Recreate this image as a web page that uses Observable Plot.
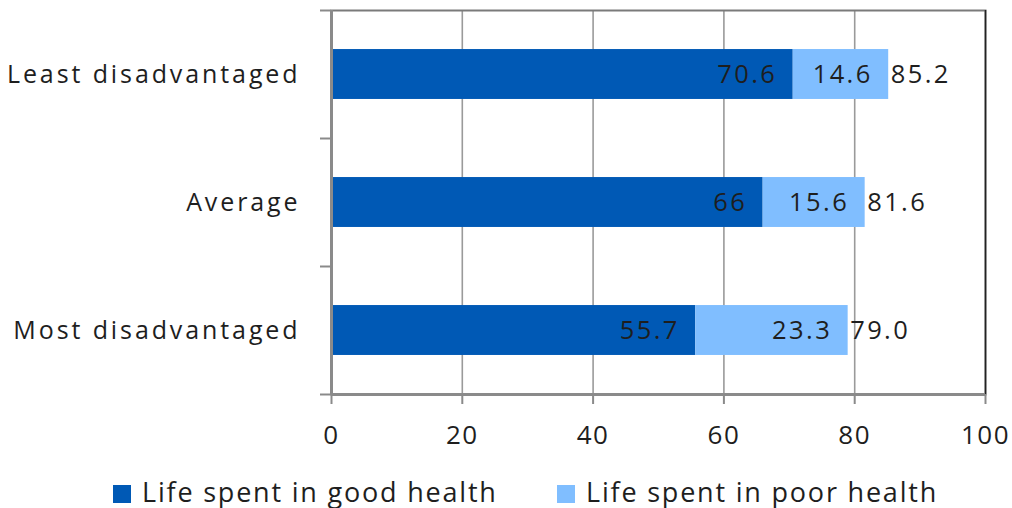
<!DOCTYPE html>
<html>
<head>
<meta charset="utf-8">
<script src="https://cdn.jsdelivr.net/npm/d3@7"></script>
<script src="https://cdn.jsdelivr.net/npm/@observablehq/plot@0.6"></script>
<style>
  body { margin: 0; background: #fff; font-family: "Open Sans", sans-serif; }
  #wrap { position: relative; width: 1012px; height: 508px; }
  #legend { position: absolute; left: 0; top: 0; width: 1012px; height: 508px; pointer-events: none; }
  .sw { position: absolute; top: 485px; width: 18px; height: 18px; }
  .lab { position: absolute; top: 478px; font-size: 27px; line-height: 27px; letter-spacing: 1.8px; color: #1e1e1e; white-space: nowrap; }
  #chart g[aria-label="y-axis tick label"] { letter-spacing: 2.9px; }
  #chart g[aria-label="x-axis tick label"] { letter-spacing: 1.5px; }
  #chart g[aria-label="text"] { letter-spacing: 2.4px; }
</style>
</head>
<body>
<div id="wrap">
  <div id="chart"></div>
  <div id="legend"></div>
</div>
<script>
// Life expectancy split into years in good and poor health, by deprivation group
const groups = ["Least disadvantaged", "Average", "Most disadvantaged"];
const goodHealth = [70.6, 66, 55.7];
const poorHealth = [14.6, 15.6, 23.3];
const seriesNames = ["Life spent in good health", "Life spent in poor health"];
const seriesColors = ["#0059B5", "#80BEFF"];
const xTicks = [0, 20, 40, 60, 80, 100];

// Vertical position of each group's band centre (top group first)
const pos = i => groups.length - 0.5 - i;
const half = 0.195;

const segments = groups.flatMap((g, i) => [
  {group: g, series: seriesNames[0], x1: 0, x2: goodHealth[i], value: goodHealth[i], y: pos(i)},
  {group: g, series: seriesNames[1], x1: goodHealth[i], x2: goodHealth[i] + poorHealth[i], value: poorHealth[i], y: pos(i)}
]);
const totals = groups.map((g, i) => ({group: g, total: goodHealth[i] + poorHealth[i], y: pos(i)}));

const ink = "#1e1e1e";
const axisGrey = "#8a8a8a";

const chart = Plot.plot({
  width: 1012,
  height: 460,
  marginLeft: 331,
  marginRight: 27,
  marginTop: 10,
  marginBottom: 66,
  style: {fontFamily: "Open Sans, sans-serif", fontSize: "25px", color: ink},
  x: {domain: [0, 100]},
  y: {domain: [0, groups.length]},
  color: {domain: seriesNames, range: seriesColors},
  marks: [
    Plot.ruleX([20, 40, 60, 80], {stroke: "#9a9a9a", strokeWidth: 1.6}),
    Plot.frame({stroke: "#7a7a7a", strokeWidth: 2}),
    Plot.ruleX([100], {stroke: "#222", strokeWidth: 1.5}),
    Plot.rect(segments, {x1: "x1", x2: "x2", y1: d => d.y - half, y2: d => d.y + half, fill: "series"}),
    Plot.text(segments, {x: "x2", y: "y", text: d => String(d.value), textAnchor: "end", dx: -16, fill: ink, fontSize: 25.5}),
    Plot.text(totals, {x: "total", y: "y", text: d => d.total.toFixed(1), textAnchor: "start", dx: 2, fill: ink, fontSize: 25.5}),
    Plot.ruleX([0], {stroke: axisGrey, strokeWidth: 3}),
    Plot.ruleY([0], {stroke: axisGrey, strokeWidth: 3}),
    Plot.axisX({ticks: xTicks, tickFormat: d => d, tickSize: 10, tickPadding: 21, stroke: axisGrey, strokeWidth: 2, fontSize: 26, label: null}),
    Plot.axisY({ticks: d3.range(groups.length + 1), tickFormat: () => "", tickSize: 11, stroke: axisGrey, strokeWidth: 2, label: null}),
    Plot.axisY({ticks: groups.map((g, i) => pos(i)), tickFormat: v => groups[groups.length - 0.5 - v], tickSize: 0, tickPadding: 31, fontSize: 25, label: null})
  ]
});
document.getElementById("chart").appendChild(chart);

// Legend: swatch and label for each series
const legend = document.getElementById("legend");
const swatchLeft = [113, 557];
const labelLeft = [142, 586];
seriesNames.forEach((name, i) => {
  const sw = document.createElement("div");
  sw.className = "sw";
  sw.style.left = swatchLeft[i] + "px";
  sw.style.background = seriesColors[i];
  const label = document.createElement("div");
  label.className = "lab";
  label.style.left = labelLeft[i] + "px";
  label.textContent = name;
  legend.appendChild(sw);
  legend.appendChild(label);
});
</script>
</body>
</html>
